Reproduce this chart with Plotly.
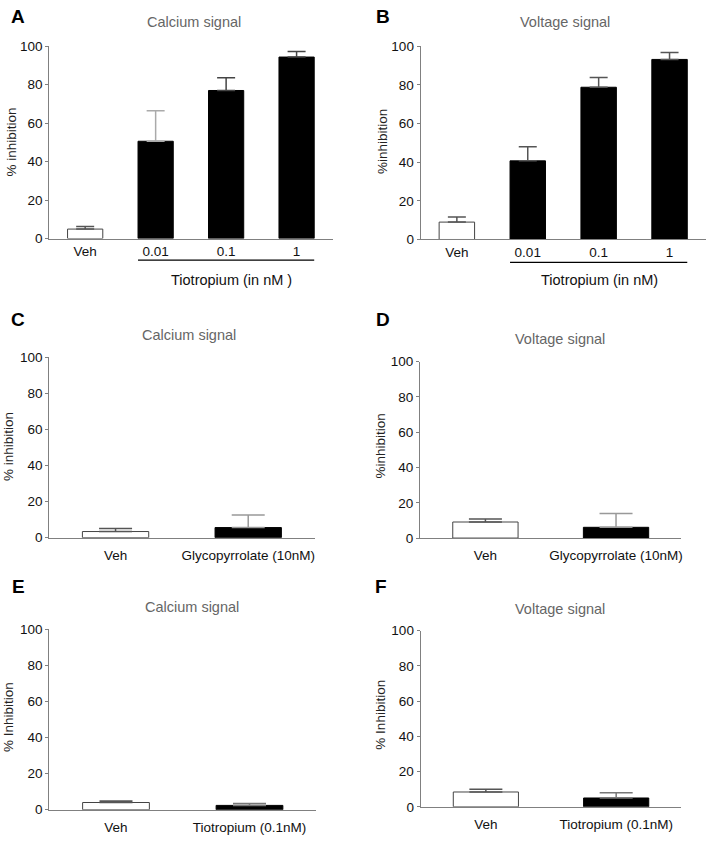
import plotly.graph_objects as go

W, H = 709, 842

# ---------------- data ----------------
A_cats = ["Veh", "0.01", "0.1", "1"]
A_mean = [4.9, 50.6, 77.0, 94.4]
A_sem = [1.4, 15.8, 6.6, 2.9]

B_cats = ["Veh", "0.01", "0.1", "1"]
B_mean = [9.0, 40.7, 78.8, 93.2]
B_sem = [2.7, 7.3, 5.1, 3.6]

C_cats = ["Veh", "Glycopyrrolate (10nM)"]
C_mean = [3.4, 5.6]
C_sem = [1.7, 7.0]

D_cats = ["Veh", "Glycopyrrolate (10nM)"]
D_mean = [9.1, 6.1]
D_sem = [1.7, 7.8]

E_cats = ["Veh", "Tiotropium (0.1nM)"]
E_mean = [4.0, 2.4]
E_sem = [0.9, 1.0]

F_cats = ["Veh", "Tiotropium (0.1nM)"]
F_mean = [8.4, 5.0]
F_sem = [1.6, 3.0]

y_ticks = [0, 20, 40, 60, 80, 100]

# ---------------- styling / layout ----------------
FONT = "Arial, Liberation Sans, sans-serif"
AXIS_COL = "#808080"

def px2x(p):
    return p / W

def py2y(p):
    return 1 - p / H

panels = [
    dict(letter="A", title="Calcium signal", ytitle="% inhibition",
         cats=A_cats, mean=A_mean, sem=A_sem,
         fills=["white", "black", "black", "black"],
         errc=["#555", "#aaa", "#444", "#444"],
         xd=(49.3, 333.0), yd=(40.0, 235.7), capw=9, bw=0.5, lab_len=0,
         letter_pos=(18.3, 9.5), title_pos=(194, 15.5), ytitle_pos=(12, 137),
         bracket=dict(y=257.7, label="Tiotropium (in nM )", lab_pos=(231.5, 278.3))),
    dict(letter="B", title="Voltage signal", ytitle="%inhibition",
         cats=B_cats, mean=B_mean, sem=B_sem,
         fills=["white", "black", "black", "black"],
         errc=["#555", "#555", "#555", "#555"],
         xd=(421.3, 706.7), yd=(40.0, 236.7), capw=9, bw=0.5, lab_len=0,
         letter_pos=(383.3, 9.5), title_pos=(566, 15.5), ytitle_pos=(383, 137),
         bracket=dict(y=260.0, label="Tiotropium (in nM)", lab_pos=(600, 278.3))),
    dict(letter="C", title="Calcium signal", ytitle="% inhibition",
         cats=C_cats, mean=C_mean, sem=C_sem,
         fills=["white", "black"], errc=["#555", "#999"],
         xd=(49.3, 315.0), yd=(356.7, 540.3), capw=16.5, bw=0.5, lab_len=5,
         letter_pos=(17.8, 318.3), title_pos=(189, 334), ytitle_pos=(8, 447)),
    dict(letter="D", title="Voltage signal", ytitle="%inhibition",
         cats=D_cats, mean=D_mean, sem=D_sem,
         fills=["white", "black"], errc=["#555", "#999"],
         xd=(420.7, 682.3), yd=(361.0, 540.7), capw=16.5, bw=0.5, lab_len=5,
         letter_pos=(383.3, 317.7), title_pos=(560.8, 338), ytitle_pos=(381, 447)),
    dict(letter="E", title="Calcium signal", ytitle="% Inhibition",
         cats=E_cats, mean=E_mean, sem=E_sem,
         fills=["white", "black"], errc=["#555", "#777"],
         xd=(49.3, 316.7), yd=(633.3, 817.3), capw=16.5, bw=0.5, lab_len=5,
         letter_pos=(18.3, 590.5), title_pos=(192.7, 611), ytitle_pos=(8, 723)),
    dict(letter="F", title="Voltage signal", ytitle="% Inhibition",
         cats=F_cats, mean=F_mean, sem=F_sem,
         fills=["white", "black"], errc=["#555", "#777"],
         xd=(421.3, 682.3), yd=(635.0, 814.3), capw=16.5, bw=0.5, lab_len=5,
         letter_pos=(382, 590.5), title_pos=(560.3, 613), ytitle_pos=(381, 720)),
]

fig = go.Figure()
annotations = []
shapes = []
layout_axes = {}

for i, p in enumerate(panels, start=1):
    xa = "x" if i == 1 else f"x{i}"
    ya = "y" if i == 1 else f"y{i}"
    n = len(p["cats"])
    xs = list(range(n))
    for j in range(n):
        fig.add_trace(go.Bar(
            x=[xs[j]], y=[p["mean"][j]], width=p["bw"],
            marker=dict(color=p["fills"][j],
                        line=dict(color="#444" if p["fills"][j] == "white" else "black", width=1)),
            error_y=dict(type="data", array=[p["sem"][j]], arrayminus=[0], symmetric=False,
                         color=p["errc"][j], thickness=1.5, width=p["capw"], visible=True),
            xaxis=xa, yaxis=ya, showlegend=False, hoverinfo="skip",
        ))
    xk = "xaxis" if i == 1 else f"xaxis{i}"
    yk = "yaxis" if i == 1 else f"yaxis{i}"
    half = 0.51 if n == 4 else 0.5
    layout_axes[xk] = dict(
        domain=[px2x(p["xd"][0]), px2x(p["xd"][1])], anchor=ya,
        range=[-half, n - 1 + half], tickmode="array", tickvals=xs, ticktext=p["cats"],
        showline=True, linecolor=AXIS_COL, linewidth=1.2, mirror=False,
        ticks="outside", ticklen=p["lab_len"], tickcolor="rgba(0,0,0,0)",
        showgrid=False, zeroline=False, fixedrange=True,
        tickfont=dict(family=FONT, size=13.5, color="#111"),
    )
    layout_axes[yk] = dict(
        domain=[py2y(p["yd"][1]), py2y(p["yd"][0])], anchor=xa,
        range=[0, 100], tickmode="array", tickvals=y_ticks,
        showline=True, linecolor=AXIS_COL, linewidth=1.2,
        ticks="outside", ticklen=3, tickcolor=AXIS_COL, tickwidth=1,
        showgrid=False, zeroline=False, fixedrange=True,
        tickfont=dict(family=FONT, size=13.5, color="#111"),
    )
    # panel letter
    annotations.append(dict(text=f"<b>{p['letter']}</b>", x=px2x(p["letter_pos"][0]),
                            y=py2y(p["letter_pos"][1]), xref="paper", yref="paper",
                            showarrow=False, xanchor="center", yanchor="middle",
                            font=dict(family=FONT, size=19, color="black")))
    # panel title
    annotations.append(dict(text=p["title"], x=px2x(p["title_pos"][0]),
                            y=py2y(p["title_pos"][1]), xref="paper", yref="paper",
                            showarrow=False, xanchor="center", yanchor="middle",
                            font=dict(family=FONT, size=14.5, color="#666")))
    # y-axis title
    annotations.append(dict(text=p["ytitle"], x=px2x(p["ytitle_pos"][0]),
                            y=py2y(p["ytitle_pos"][1]), xref="paper", yref="paper",
                            showarrow=False, xanchor="center", yanchor="middle", textangle=-90,
                            font=dict(family=FONT, size=13.5, color="#222")))
    if "bracket" in p:
        b = p["bracket"]
        shapes.append(dict(type="line", xref=xa, yref="paper",
                           x0=xs[1] - p["bw"] / 2, x1=xs[-1] + p["bw"] / 2,
                           y0=py2y(b["y"]), y1=py2y(b["y"]),
                           line=dict(color="black", width=1.2)))
        annotations.append(dict(text=b["label"], x=px2x(b["lab_pos"][0]),
                                y=py2y(b["lab_pos"][1]), xref="paper", yref="paper",
                                showarrow=False, xanchor="center", yanchor="middle",
                                font=dict(family=FONT, size=14.5, color="#111")))

fig.update_layout(
    width=W, height=H, margin=dict(l=0, r=0, t=0, b=0),
    paper_bgcolor="white", plot_bgcolor="white",
    barmode="overlay", showlegend=False,
    annotations=annotations, shapes=shapes,
    **layout_axes,
)

fig.write_html(
    "out.html", include_plotlyjs=True, config={"displayModeBar": False},
    post_script=(
        "document.documentElement.style.margin='0px';"
        "document.documentElement.style.overflow='hidden';"
        "document.body.style.margin='0px';document.body.style.padding='0px';"
        "document.body.style.overflow='hidden';"
    ),
)
